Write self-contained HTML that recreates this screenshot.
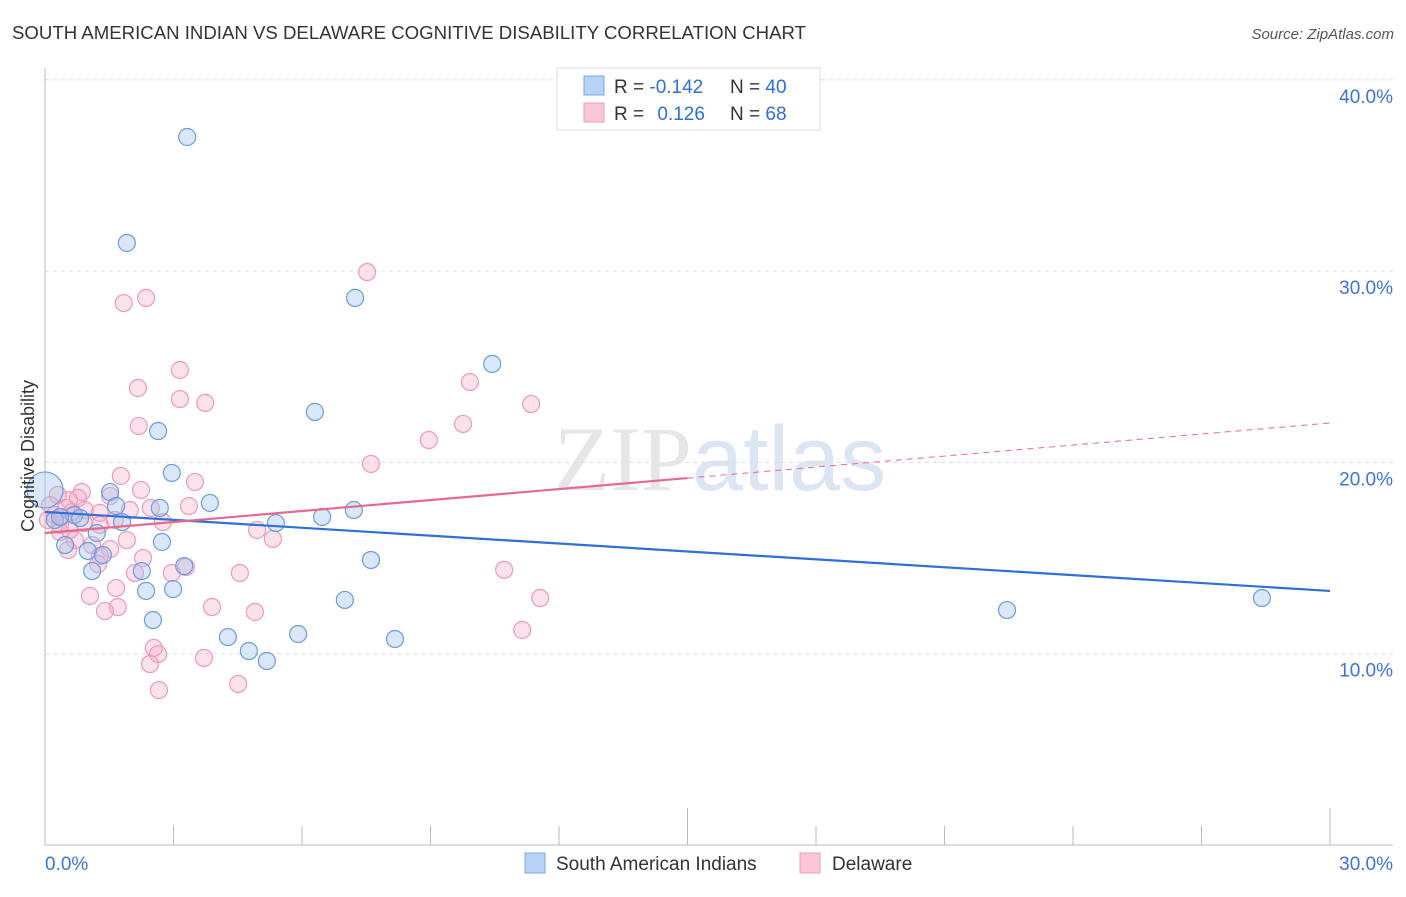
<!DOCTYPE html>
<html><head><meta charset="utf-8"><style>
body{margin:0;background:#fff;font-family:"Liberation Sans",sans-serif}
svg text{font-family:"Liberation Sans",sans-serif}
</style></head><body>
<svg id="chart" width="1406" height="892" viewBox="0 0 1406 892" xmlns="http://www.w3.org/2000/svg">
<text x="12" y="39" font-size="18" fill="#333" textLength="794" lengthAdjust="spacingAndGlyphs">SOUTH AMERICAN INDIAN VS DELAWARE COGNITIVE DISABILITY CORRELATION CHART</text>
<text x="1394" y="39" font-size="15" fill="#555" text-anchor="end" font-style="italic">Source: ZipAtlas.com</text>
<text x="720" y="490" font-size="92" fill="#e6e6e6" text-anchor="middle" font-family="Liberation Serif"><tspan font-family="Liberation Serif">ZIP</tspan><tspan font-family="Liberation Sans" fill="#dce6f3">atlas</tspan></text>
<g id="grid"></g>
<g id="axes"></g>
<g id="marks"></g>
<text transform="translate(34,456) rotate(-90)" font-size="18" fill="#333" text-anchor="middle">Cognitive Disability</text>
<g>
<rect x="557" y="68" width="263" height="62" fill="#fff" stroke="#ddd"/>
<rect x="584" y="76" width="20" height="19" fill="#b8d2f5" stroke="#7ba6e3"/>
<rect x="584" y="103" width="20" height="19" fill="#f9c6d6" stroke="#ef9ab7"/>
<text x="614" y="93" font-size="19" fill="#333">R = <tspan fill="#2f6fd6">-0.142</tspan></text>
<text x="730" y="93" font-size="19" fill="#333">N = <tspan fill="#2f6fd6">40</tspan></text>
<text x="614" y="120" font-size="19" fill="#333">R = <tspan fill="#2f6fd6" dx="8">0.126</tspan></text>
<text x="730" y="120" font-size="19" fill="#333">N = <tspan fill="#2f6fd6">68</tspan></text>
</g>
<g>
<rect x="525" y="853" width="20" height="20" fill="#b8d2f5" stroke="#7ba6e3"/>
<text x="556" y="870" font-size="19" fill="#333">South American Indians</text>
<rect x="800" y="853" width="20" height="20" fill="#f9c6d6" stroke="#ef9ab7"/>
<text x="832" y="870" font-size="19" fill="#333">Delaware</text>
</g>
</svg>
<script>
const blueX=[3.32,1.91,7.24,10.44,6.30,2.64,2.96,3.85,1.52,2.68,1.66,7.21,6.47,5.39,1.80,0.68,0.23,1.21,2.73,0.47,1.00,1.35,7.61,2.26,1.10,3.25,2.36,2.99,7.00,2.52,4.27,5.91,8.17,4.76,5.18,22.46,28.41,0,0.35,0.82];
const blueY=[37.01,31.47,28.60,25.15,22.64,21.64,19.45,17.88,18.45,17.62,17.72,17.51,17.15,16.83,16.88,17.25,16.99,16.31,15.84,15.68,15.37,15.16,14.90,14.32,14.32,14.58,13.28,13.38,12.81,11.76,10.87,11.03,10.77,10.14,9.62,12.28,12.91,18.56,17.15,17.09];
const pinkX=[7.52,2.36,1.84,3.15,2.17,9.92,3.15,3.74,11.35,2.19,9.76,8.96,7.61,3.50,1.77,2.24,0.86,1.52,0.56,3.36,2.47,1.28,2.75,0.91,4.95,5.32,1.91,0.35,0.70,1.52,0.54,2.29,1.28,1.24,10.72,4.55,2.10,2.96,3.29,1.66,1.05,11.56,3.90,1.70,1.40,4.90,11.14,2.54,2.64,2.45,3.71,2.66,4.51,0.12,0.23,0.40,0.63,0.93,0.35,1.10,0.77,0.07,0.58,1.63,1.28,1.98,0.30,0.49];
const pinkY=[29.95,28.60,28.33,24.83,23.89,24.20,23.31,23.11,23.05,21.90,22.01,21.17,19.92,18.98,19.29,18.56,18.45,18.24,18.03,17.72,17.62,17.36,16.88,16.83,16.47,16.00,15.94,16.36,15.94,15.47,15.42,15.00,15.11,14.69,14.38,14.22,14.22,14.22,14.53,13.43,13.02,12.91,12.44,12.44,12.23,12.18,11.24,10.30,9.98,9.46,9.78,8.10,8.42,17.77,17.25,17.15,17.41,17.51,16.73,15.68,18.14,16.99,16.47,16.99,16.73,17.51,18.30,17.62];
const blueTrend=[17.41,13.28];
const pinkTrend=[16.31,19.18,22.06];
const yTicks=[10,20,30,40];
const yTickLabels=["10.0%","20.0%","30.0%","40.0%"];
const xTicks=[0,3,6,9,12,15,18,21,24,27,30];

const NS="http://www.w3.org/2000/svg";
const X=v=>45+v/30*1285;
const Y=v=>845-v/10*191.3;
function mk(tag,attrs,parent){const e=document.createElementNS(NS,tag);for(const k in attrs)e.setAttribute(k,attrs[k]);parent.appendChild(e);return e;}
const grid=document.getElementById('grid'),axes=document.getElementById('axes'),marks=document.getElementById('marks');
yTicks.forEach((t,i)=>{
  const l=mk('line',{x1:45,x2:1393,y1:Y(t),y2:Y(t),stroke:'#ddd','stroke-dasharray':'4,4'},grid);
  
  
  const tx=mk('text',{x:1393,y:Y(t)+23,'font-size':19,fill:'#3d74d6','text-anchor':'end'},axes);
  tx.textContent=yTickLabels[i];
  
  
});
let a=mk('line',{x1:45,x2:45,y1:68,y2:845,stroke:'#bbb'},axes);


a=mk('line',{x1:45,x2:1393,y1:845,y2:845,stroke:'#bbb'},axes);


xTicks.forEach(t=>{
  const major=(t===15||t===30);
  const l=mk('line',{x1:X(t),x2:X(t),y1:major?808:826,y2:845,stroke:'#bbb'},axes);
  
  
});
let t0=mk('text',{x:45,y:870,'font-size':19,fill:'#3d74d6'},axes);t0.textContent='0.0%';


let t1=mk('text',{x:1393,y:870,'font-size':19,fill:'#3d74d6','text-anchor':'end'},axes);t1.textContent='30.0%';



pinkX.forEach((x,i)=>{
  const c=mk('circle',{cx:X(x),cy:Y(pinkY[i]),r:8.5,fill:'rgba(244,170,195,0.35)',stroke:'#ef9ab7','stroke-width':1.2},marks);
  
  
});
blueX.forEach((x,i)=>{
  const c=mk('circle',{cx:X(x),cy:Y(blueY[i]),r:i===37?18:8.5,fill:'rgba(160,196,240,0.4)',stroke:'#6c9be0','stroke-width':1.2},marks);
  
  
});
let ln=mk('line',{x1:X(0),y1:Y(blueTrend[0]),x2:X(30),y2:Y(blueTrend[1]),stroke:'#2f6fd6','stroke-width':2.2},marks);


ln=mk('line',{x1:X(0),y1:Y(pinkTrend[0]),x2:X(15),y2:Y(pinkTrend[1]),stroke:'#e8698f','stroke-width':2.2},marks);


ln=mk('line',{x1:X(15),y1:Y(pinkTrend[1]),x2:X(30),y2:Y(pinkTrend[2]),stroke:'#e8698f','stroke-width':1,'stroke-dasharray':'6,5'},marks);


</script>
</body></html>
